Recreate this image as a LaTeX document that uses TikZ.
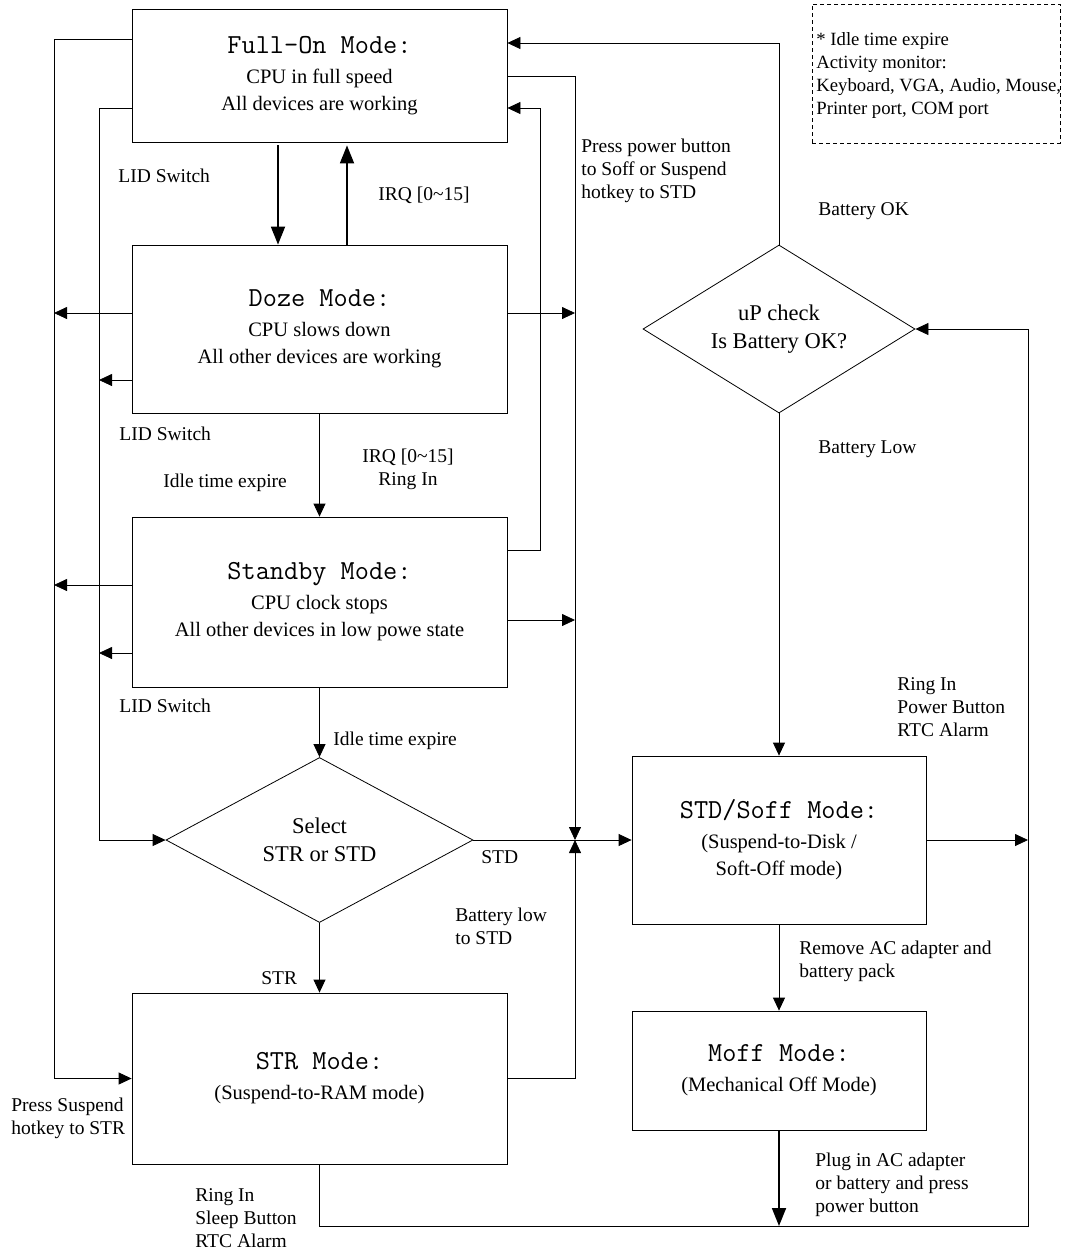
\documentclass[tikz,border=0pt]{standalone}
\usepackage{fontspec}
\setmainfont{Liberation Serif}
\usepackage{tikz}
\usetikzlibrary{arrows.meta,shapes.geometric}

\newcommand{\modetitle}{\fontsize{27.5}{30}\selectfont\ttfamily}
\newcommand{\modebody}{\fontsize{20.5}{27}\selectfont}
\newcommand{\lblsize}{\fontsize{19.5}{23}\selectfont}
\newcommand{\notesize}{\fontsize{18.7}{23}\selectfont}
\newcommand{\decidesize}{\fontsize{22.5}{28}\selectfont}

\begin{document}
\begin{tikzpicture}[x=1pt,y=-1pt,line width=0.8pt,
  >={Triangle[length=13pt,width=12pt]},
  mode/.style={draw, rectangle, minimum width=375pt, align=center, inner sep=0pt, font=\modebody},
  decide/.style={draw, diamond, aspect=2, align=center, inner sep=0pt, font=\decidesize},
  lbl/.style={inner sep=0pt, align=left, font=\lblsize},
  heavy/.style={line width=1.8pt, -{Triangle[length=18pt,width=14pt]}}]
  \useasboundingbox (0,0) rectangle (1069,1254);

  \node[mode, minimum height=133pt] (fullon) at (319.5,75.5) {{\modetitle Full-On Mode:}\\[3pt]CPU in full speed\\All devices are working};
  \node[mode, minimum height=168pt] (doze) at (319.5,329) {{\modetitle Doze Mode:}\\[3pt]CPU slows down\\All other devices are working};
  \node[mode, minimum height=170pt] (standby) at (319.5,602) {{\modetitle Standby Mode:}\\[3pt]CPU clock stops\\All other devices in low powe state};
  \node[decide, minimum width=307pt, minimum height=165pt] (select) at (319.5,840) {Select\\STR or STD};
  \node[mode, minimum height=171pt] (str) at (319.5,1078.5) {{\modetitle STR Mode:}\\[3pt](Suspend-to-RAM mode)};
  \node[decide, minimum width=272pt, minimum height=168pt] (upcheck) at (779,329) {uP check\\Is Battery OK?};
  \node[mode, minimum width=294pt, minimum height=168pt] (stdsoff) at (779,840) {{\modetitle STD/Soff Mode:}\\[3pt](Suspend-to-Disk /\\Soft-Off mode)};
  \node[mode, minimum width=294pt, minimum height=119pt] (moff) at (779,1070.5) {{\modetitle Moff Mode:}\\[3pt](Mechanical Off Mode)};
  \node[draw, dash pattern=on 4pt off 3pt, line width=0.7pt, minimum width=248pt, minimum height=139pt] (note) at (936,73.5) {};
  \node[lbl, font=\notesize, anchor=west] (notetext) at (816,75) {* Idle time expire\\Activity monitor:\\Keyboard, VGA, Audio, Mouse,\\Printer port, COM port};

  \coordinate (busA) at (54,0);
  \coordinate (busB) at (99,0);
  \coordinate (busD) at (540,0);
  \coordinate (busC) at (575,0);
  \coordinate (busE) at (1028,0);
  \coordinate (floor) at (0,1226);

  \draw[->] (fullon.west |- 0,39) -| (busA |- str.west) -- (str.west);
  \draw[->] (fullon.west |- 0,108) -| (busB |- select.west) -- (select.west);
  \draw[->] (doze.west |- 0,313) -- (busA |- 0,313);
  \draw[->] (doze.west |- 0,380) -- (busB |- 0,380);
  \draw[->] (doze.east |- 0,313) -- (busC |- 0,313);
  \draw[->] (standby.west |- 0,585) -- (busA |- 0,585);
  \draw[->] (standby.west |- 0,653) -- (busB |- 0,653);
  \draw[->] (standby.east |- 0,620) -- (busC |- 0,620);
  \draw[->] (standby.east |- 0,550) -| (busD |- 0,108) -- (fullon.east |- 0,108);
  \draw[->] (fullon.east |- 0,76) -| (busC |- select.east);
  \draw[->] (str.east) -| (busC |- select.east);
  \draw[->] (select.east) -- (stdsoff.west);
  \draw[heavy, shorten <=3pt] (fullon.south -| 278,0) -- (doze.north -| 278,0);
  \draw[heavy, shorten >=3pt] (doze.north -| 347,0) -- (fullon.south -| 347,0);
  \draw[->] (doze) -- (standby);
  \draw[->] (standby) -- (select);
  \draw[->] (select) -- (str);
  \draw[->] (str.south) |- (busE |- floor) -- (busE |- upcheck.east) -- (upcheck.east);
  \draw[heavy] (moff.south) -- (moff.south |- floor);
  \draw[->] (stdsoff.east) -- (busE |- stdsoff.east);
  \draw[->] (upcheck.north) |- (fullon.east |- 0,43);
  \draw[->] (upcheck) -- (stdsoff);
  \draw[->] (stdsoff) -- (moff);

  \node[lbl, anchor=west] (lidA) at (118,176) {LID Switch};
  \node[lbl, anchor=west] (irqA) at (378,195) {IRQ [0\textasciitilde15]};
  \node[lbl, anchor=west] (presssoff) at (581,171) {Press power button\\to Soff or Suspend\\hotkey to STD};
  \node[lbl, anchor=west] (battok) at (818,211) {Battery OK};
  \node[lbl, anchor=west] (lidB) at (119,434) {LID Switch};
  \node[lbl, align=center] (irqB) at (408,469) {IRQ [0\textasciitilde15]\\Ring In};
  \node[lbl, anchor=west] (idleA) at (163,483) {Idle time expire};
  \node[lbl, anchor=west] (battlow) at (818,449) {Battery Low};
  \node[lbl, anchor=west] (lidC) at (119,706) {LID Switch};
  \node[lbl, anchor=west] (idleB) at (333,741) {Idle time expire};
  \node[lbl, anchor=west] (ringA) at (897,707) {Ring In\\Power Button\\RTC Alarm};
  \node[lbl, anchor=west] (stdlab) at (481,857) {STD};
  \node[lbl, anchor=west] (battstd) at (455,926) {Battery low\\to STD};
  \node[lbl, anchor=west] (removeac) at (799,961) {Remove AC adapter and\\battery pack};
  \node[lbl, anchor=west] (strlab) at (261,978) {STR};
  \node[lbl, anchor=west] (presssusp) at (11,1118) {Press Suspend\\hotkey to STR};
  \node[lbl, anchor=west] (ringB) at (195,1218) {Ring In\\Sleep Button\\RTC Alarm};
  \node[lbl, anchor=west] (plugin) at (815,1185) {Plug in AC adapter\\or battery and press\\power button};
\end{tikzpicture}
\end{document}
